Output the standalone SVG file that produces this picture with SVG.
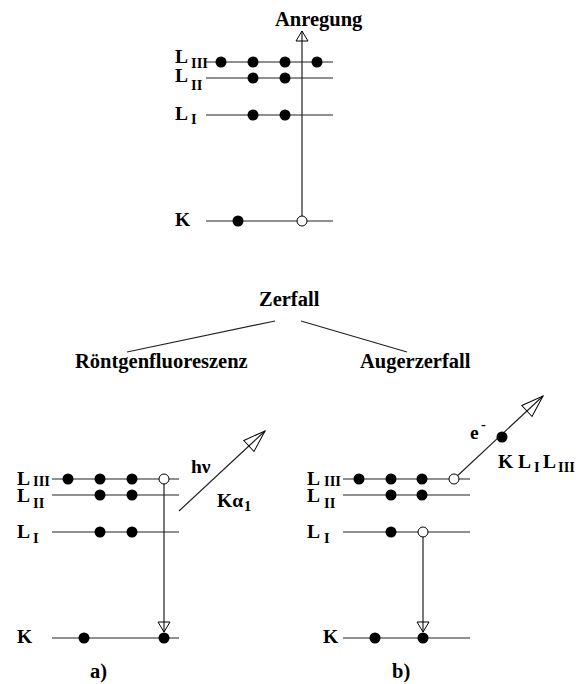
<svg xmlns="http://www.w3.org/2000/svg" width="581" height="684" viewBox="0 0 581 684">
  <style>
    .lvl { stroke: #222; stroke-width: 1.2; fill: none; }
    .tr { stroke: #222; stroke-width: 1.2; fill: none; }
    .e { fill: #000; }
    .h { fill: #fff; stroke: #000; stroke-width: 1; }
    text { font-family: "Liberation Serif", "Times New Roman", serif; font-weight: bold; fill: #000; }
    .t { font-size: 20.5px; }
    .L { font-size: 19.5px; }
    .s { font-size: 14.5px; }
  </style>
  <defs>
    <marker id="tipS" viewBox="-1 -1 12 14" refX="10" refY="6" markerWidth="12" markerHeight="14" markerUnits="userSpaceOnUse" orient="auto" overflow="visible">
      <path d="M0,0 L10,6 L0,12 Z" fill="none" stroke="#000" stroke-width="1"/>
    </marker>
    <marker id="tipL" viewBox="-1 -1 24 17" refX="22" refY="7.5" markerWidth="24" markerHeight="17" markerUnits="userSpaceOnUse" orient="auto" overflow="visible">
      <path d="M0,0 L22,7.5 L0,15 Z" fill="none" stroke="#000" stroke-width="1"/>
    </marker>
  </defs>

  <!-- excitation: K electron lifted out -->
  <g id="excitation">
    <text class="t" x="275" y="26" font-size="19.5">Anregung</text>
    <g id="top-LIII">
      <text class="L" x="175" y="63">L</text><text class="s" x="191" y="68">III</text>
      <line class="lvl" x1="206" y1="62" x2="333" y2="62"/>
      <circle class="e" cx="221" cy="62" r="5.5"/>
      <circle class="e" cx="253" cy="62" r="5.5"/>
      <circle class="e" cx="285" cy="62" r="5.5"/>
      <circle class="e" cx="317" cy="62" r="5.5"/>
    </g>
    <g id="top-LII">
      <text class="L" x="175" y="82">L</text><text class="s" x="191" y="90">II</text>
      <line class="lvl" x1="206" y1="78" x2="333" y2="78"/>
      <circle class="e" cx="253" cy="78" r="5.5"/>
      <circle class="e" cx="285" cy="78" r="5.5"/>
    </g>
    <g id="top-LI">
      <text class="L" x="175" y="120">L</text><text class="s" x="191" y="124">I</text>
      <line class="lvl" x1="206" y1="115" x2="333" y2="115"/>
      <circle class="e" cx="253" cy="115" r="5.5"/>
      <circle class="e" cx="285" cy="115" r="5.5"/>
    </g>
    <g id="top-K">
      <text class="L" x="175" y="226">K</text>
      <line class="lvl" x1="206" y1="221" x2="333" y2="221"/>
      <circle class="e" cx="238" cy="221" r="5.5"/>
    </g>
  </g>

  <!-- decay branches -->
  <g id="decay-labels">
    <text class="t" x="259" y="306">Zerfall</text>
    <text class="t" x="75" y="368" font-size="21">Röntgenfluoreszenz</text>
    <text class="t" x="360" y="368">Augerzerfall</text>
  </g>

  <!-- a) X-ray fluorescence -->
  <g id="panel-a">
    <g id="a-LIII">
      <text class="L" x="17" y="485">L</text><text class="s" x="33" y="486">III</text>
      <line class="lvl" x1="52" y1="479" x2="179" y2="479"/>
      <circle class="e" cx="68" cy="479" r="5.5"/>
      <circle class="e" cx="100" cy="479" r="5.5"/>
      <circle class="e" cx="132" cy="479" r="5.5"/>
    </g>
    <g id="a-LII">
      <text class="L" x="17" y="502">L</text><text class="s" x="33" y="508">II</text>
      <line class="lvl" x1="52" y1="495" x2="179" y2="495"/>
      <circle class="e" cx="100" cy="495" r="5.5"/>
      <circle class="e" cx="132" cy="495" r="5.5"/>
    </g>
    <g id="a-LI">
      <text class="L" x="17" y="538">L</text><text class="s" x="33" y="543">I</text>
      <line class="lvl" x1="52" y1="532" x2="179" y2="532"/>
      <circle class="e" cx="100" cy="532" r="5.5"/>
      <circle class="e" cx="132" cy="532" r="5.5"/>
    </g>
    <g id="a-K">
      <text class="L" x="17" y="643">K</text>
      <line class="lvl" x1="52" y1="638" x2="179" y2="638"/>
      <circle class="e" cx="84" cy="638" r="5.5"/>
      <circle class="e" cx="164" cy="638" r="5.5"/>
    </g>
    <text class="L" x="191" y="473">hν</text>
    <text class="L" x="217" y="507">Kα</text><text class="s" x="244" y="511">1</text>
    <text class="t" x="90" y="678" font-size="20">a)</text>
  </g>

  <!-- b) Auger decay -->
  <g id="panel-b">
    <g id="b-LIII">
      <text class="L" x="307" y="485">L</text><text class="s" x="324" y="486">III</text>
      <line class="lvl" x1="343" y1="479" x2="470" y2="479"/>
      <circle class="e" cx="359" cy="479" r="5.5"/>
      <circle class="e" cx="391" cy="479" r="5.5"/>
      <circle class="e" cx="422" cy="479" r="5.5"/>
    </g>
    <g id="b-LII">
      <text class="L" x="307" y="502">L</text><text class="s" x="324" y="508">II</text>
      <line class="lvl" x1="343" y1="495" x2="470" y2="495"/>
      <circle class="e" cx="391" cy="495" r="5.5"/>
      <circle class="e" cx="422" cy="495" r="5.5"/>
    </g>
    <g id="b-LI">
      <text class="L" x="307" y="538">L</text><text class="s" x="324" y="543">I</text>
      <line class="lvl" x1="343" y1="532" x2="470" y2="532"/>
      <circle class="e" cx="391" cy="532" r="5.5"/>
    </g>
    <g id="b-K">
      <text class="L" x="323" y="643">K</text>
      <line class="lvl" x1="343" y1="638" x2="470" y2="638"/>
      <circle class="e" cx="375" cy="638" r="5.5"/>
      <circle class="e" cx="423" cy="638" r="5.5"/>
    </g>
    <text class="L" x="470" y="439">e</text><text class="s" x="481" y="429">-</text>
    <text class="L" x="498" y="468">K</text>
    <text class="L" x="518" y="468">L</text><text class="s" x="534" y="472">I</text>
    <text class="L" x="543" y="468">L</text><text class="s" x="558" y="472">III</text>
    <text class="t" x="392" y="678" font-size="20">b)</text>
  </g>

  <!-- transitions and branch lines -->
  <g id="connectors">
    <line class="tr" x1="302" y1="221" x2="302" y2="31" marker-end="url(#tipS)"/>
    <line class="tr" x1="127" y1="352" x2="275" y2="321"/>
    <line class="tr" x1="301" y1="321" x2="407" y2="352"/>
    <line class="tr" x1="164" y1="479" x2="164" y2="632" marker-end="url(#tipS)"/>
    <line class="tr" x1="179" y1="511" x2="265" y2="431" marker-end="url(#tipL)"/>
    <line class="tr" x1="423" y1="532" x2="423" y2="632" marker-end="url(#tipS)"/>
    <line class="tr" x1="454" y1="479" x2="543" y2="396" marker-end="url(#tipL)"/>
  </g>

  <!-- vacancies and the ejected electron drawn above the transition lines -->
  <g id="holes">
    <circle class="h" cx="302" cy="221" r="5"/>
    <circle class="h" cx="164" cy="479" r="5"/>
    <circle class="h" cx="454" cy="479" r="5"/>
    <circle class="h" cx="423" cy="532" r="5"/>
    <circle class="e" cx="502" cy="437" r="5.5"/>
  </g>
</svg>
